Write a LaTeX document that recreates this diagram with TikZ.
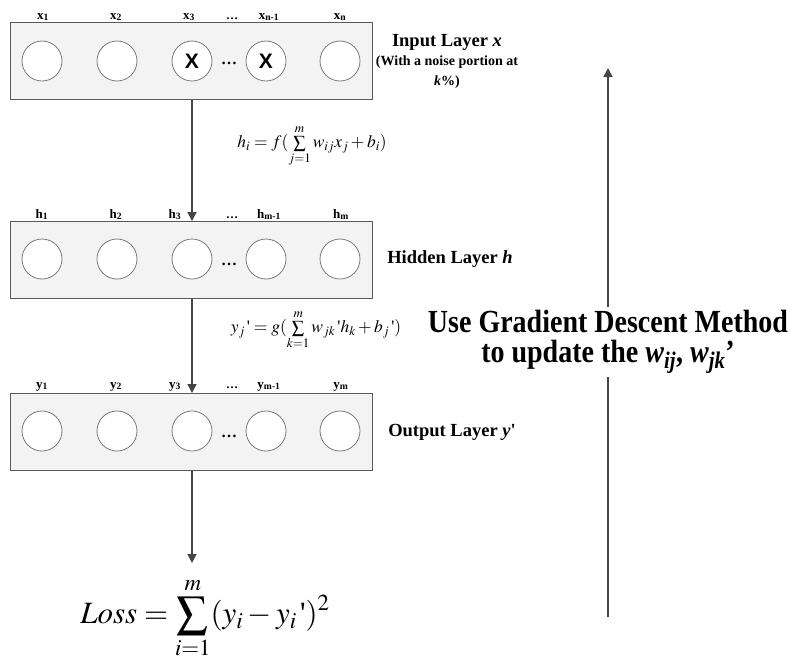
\documentclass[tikz,border=0pt]{standalone}
\usepackage{mathptmx}
\usepackage{fontspec}
\setmainfont{Liberation Serif}
\setsansfont{Liberation Sans}
\usetikzlibrary{arrows.meta}
\definecolor{boxfill}{HTML}{F3F3F3}
\definecolor{boxborder}{HTML}{5A5A5A}
\definecolor{circborder}{HTML}{7A7A7A}
\definecolor{arrowgray}{HTML}{454545}
\tikzset{
  layerbox/.style={draw=boxborder, fill=boxfill, line width=1pt, minimum width=362pt, minimum height=77pt, anchor=north west, inner sep=0pt},
  neuron/.style={circle, draw=circborder, fill=white, minimum size=40pt, inner sep=0pt, line width=0.8pt},
  unitlbl/.style={font=\fontsize{13}{14}\selectfont\bfseries, anchor=base, inner sep=0pt},
  layerlbl/.style={font=\fontsize{18.5}{20}\selectfont\bfseries, inner sep=0pt},
  boxdots/.style={font=\fontsize{16}{16}\selectfont\bfseries, inner sep=0pt},
  noisex/.style={font=\fontsize{21}{21}\selectfont\sffamily\bfseries},
  flowarrow/.style={draw=arrowgray, line width=1.5pt, -{Triangle[length=9pt,width=9pt]}},
  flowline/.style={draw=arrowgray, line width=1.5pt},
  formula/.style={font=\fontsize{17.5}{19}\selectfont, inner sep=0pt},
}
\begin{document}
\begin{tikzpicture}[x=1pt,y=-1pt]
\useasboundingbox (0,0) rectangle (795,659);
% ---------- input layer ----------
\node[layerbox] (inbox) at (10,22) {};
\foreach \n/\xx in {1/42,2/117,3/192,4/266,5/340}{
  \node[neuron] (x\n) at (\xx,61) {};
}
\node[noisex] at (x3) {X};
\node[noisex] at (x4) {X};
\node[boxdots] (indots) at (229,63) {…};
\node[unitlbl] (lx1) at (43,19) {x\textsubscript{1}};
\node[unitlbl] (lx2) at (116,19) {x\textsubscript{2}};
\node[unitlbl] (lx3) at (189,19) {x\textsubscript{3}};
\node[unitlbl] (lxd) at (232,19) {\fontsize{12}{12}\selectfont …};
\node[unitlbl] (lxn1) at (269,19) {x\textsubscript{n-1}};
\node[unitlbl] (lxn) at (340,19) {x\textsubscript{n}};
\node[layerlbl] (inlbl) at (447,42) {Input Layer \textit{x}};
\node[font=\fontsize{14}{20}\selectfont\bfseries, align=center, inner sep=0pt] (noise) at (447,72) {(With a noise portion at\\\textit{k}\%)};
% ---------- hidden layer ----------
\node[layerbox] (hidbox) at (10,221) {};
\foreach \n/\xx in {1/42,2/117,3/192,4/266,5/340}{
  \node[neuron] (h\n) at (\xx,259) {};
}
\node[boxdots] (hiddots) at (229,264) {…};
\node[unitlbl] (lh1) at (42,218) {h\textsubscript{1}};
\node[unitlbl] (lh2) at (116,218) {h\textsubscript{2}};
\node[unitlbl] (lh3) at (175,218) {h\textsubscript{3}};
\node[unitlbl] (lhd) at (232,218) {\fontsize{12}{12}\selectfont …};
\node[unitlbl] (lhm1) at (269,218) {h\textsubscript{m-1}};
\node[unitlbl] (lhm) at (341,218) {h\textsubscript{m}};
\node[layerlbl] (hidlbl) at (450,259) {Hidden Layer \textit{h}};
% ---------- output layer ----------
\node[layerbox] (outbox) at (10,393) {};
\foreach \n/\xx in {1/42,2/117,3/192,4/266,5/340}{
  \node[neuron] (y\n) at (\xx,431) {};
}
\node[boxdots] (outdots) at (229,436) {…};
\node[unitlbl] (ly1) at (42,388) {y\textsubscript{1}};
\node[unitlbl] (ly2) at (116,388) {y\textsubscript{2}};
\node[unitlbl] (ly3) at (175,388) {y\textsubscript{3}};
\node[unitlbl] (lyd) at (232,388) {\fontsize{12}{12}\selectfont …};
\node[unitlbl] (lym1) at (269,388) {y\textsubscript{m-1}};
\node[unitlbl] (lym) at (341,388) {y\textsubscript{m}};
\node[layerlbl] (outlbl) at (452,432) {Output Layer \textit{y}\textquotesingle};
% ---------- formulas ----------
\node[formula] (f1) at (312,146) {$h_i = f(\sum\limits_{j=1}^{m} w_{ij} x_j + b_i)$};
\node[formula] (f2) at (316,330) {$y_j\,\mbox{\textquotesingle} = g(\sum\limits_{k=1}^{m} w_{jk}\,\mbox{\textquotesingle} h_k + b_j\,\mbox{\textquotesingle})$};
\node[font=\fontsize{31}{33}\selectfont, inner sep=0pt, anchor=north] (loss) at (205,577) {$\displaystyle \mathit{Loss} = \sum_{i=1}^{m} (y_i - y_i\,\mbox{\textquotesingle})^2$};
% ---------- connectors ----------
\draw[flowarrow] (x3 |- inbox.south) -- (x3 |- hidbox.north);
\draw[flowarrow] (x3 |- hidbox.south) -- (x3 |- outbox.north);
\coordinate (lossin) at ([yshift=14pt]x3 |- loss.north);
\draw[flowarrow] (x3 |- outbox.south) -- (lossin);
% ---------- gradient descent ----------
\node[font=\fontsize{28}{30}\selectfont\bfseries, align=center, inner xsep=0pt, inner ysep=3pt] (grad) at (608,342) {\scalebox{1}[1.15]{Use Gradient Descent Method}\\\scalebox{1}[1.15]{to update the \textit{w\textsubscript{ij}}, \textit{w\textsubscript{jk}}’}};
\coordinate (gbot) at (608,617);
\coordinate (gtop) at (608,68);
\draw[flowline] (gbot) -- (grad.south);
\draw[flowarrow] (grad.north) -- (gtop);
\end{tikzpicture}
\end{document}
